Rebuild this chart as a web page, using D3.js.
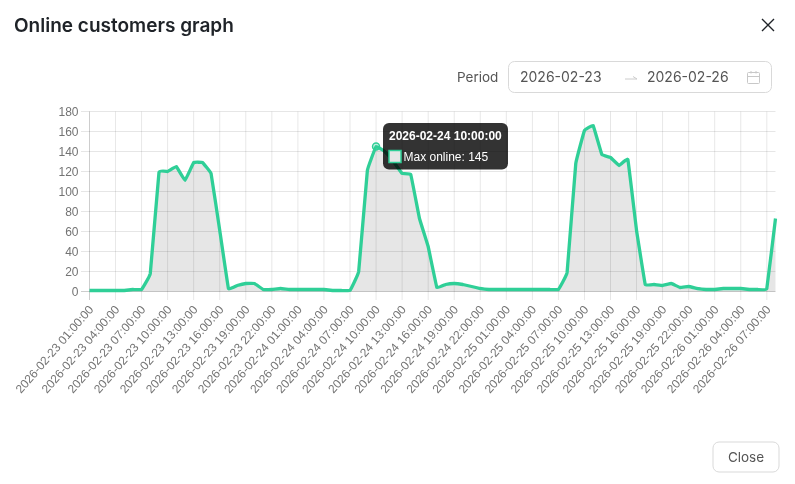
<!DOCTYPE html>
<html><head><meta charset="utf-8">
<script src="https://cdn.jsdelivr.net/npm/d3@7"></script>
<style>html,body{margin:0;padding:0;background:#fff}svg{display:block}text{font-family:Inter,sans-serif}</style>
</head><body><div id="c"></div>
<script>
const days = ["2026-02-23","2026-02-24","2026-02-25","2026-02-26"];
const firstHour = 1;
const maxOnline = [1,1,1,1,1,2,2,18,119,120,125,111,129,129,118,61,3,6,8,8,2,2,3,2,
  2,2,2,2,1,1,1,20,121,145,140,130,118,117,73,45,4,7,8,7,5,3,2,2,
  2,2,2,2,2,2,2,19,128,161,166,137,134,126,132,61,7,7,6,8,4,5,3,2,
  2,3,3,3,2,2,3,73];
const yTicks = [0,20,40,60,80,100,120,140,160,180];
const seriesName = "Max online";
const activeIndex = 33;
const title = "Online customers graph";
const periodLabel = "Period";
const closeLabel = "Close";

function label(i){
  const h = i + firstHour;
  const d = Math.floor(h/24), hh = h%24;
  return days[d]+" "+String(hh).padStart(2,"0")+":00:00";
}
const W=795,H=484;
const svg=d3.select("#c").append("svg").attr("width",W).attr("height",H);
const x=d3.scaleLinear().domain([0,maxOnline.length-1]).range([89.5,775.5]);
const y=d3.scaleLinear().domain([0,180]).range([291.5,111.5]);
const grid="rgba(0,0,0,0.1)";
const sans="'Liberation Sans',Arial,sans-serif";
const g=svg.append("g").style("opacity",0.999);
yTicks.forEach(t=>{
  g.append("line").attr("x1",81).attr("x2",775.5).attr("y1",y(t)).attr("y2",y(t))
   .attr("stroke",t===0?"rgba(0,0,0,0.2)":grid);
  g.append("text").attr("x",78.5).attr("y",y(t)+4.3).attr("text-anchor","end")
   .style("font-family",sans).style("font-size","12px").attr("fill","#737373").text(t);
});
const tickIdx=d3.range(0,maxOnline.length,3);
tickIdx.forEach(i=>{
  g.append("line").attr("x1",x(i)).attr("x2",x(i)).attr("y1",111.5).attr("y2",300)
   .attr("stroke",i===0?"rgba(0,0,0,0.2)":grid);
  g.append("text").attr("transform",`translate(${x(i)-1},${305}) rotate(-49)`)
   .attr("text-anchor","end").attr("dy","0.62em")
   .style("font-family",sans).style("font-size","12px").attr("fill","#737373").text(label(i));
});
const curve=d3.curveCardinal.tension(0.85);
g.append("path").datum(maxOnline)
 .attr("d",d3.area().x((d,i)=>x(i)).y0(y(0)).y1(d=>y(d)).curve(curve))
 .attr("fill","rgba(0,0,0,0.1)");
g.append("path").datum(maxOnline)
 .attr("d",d3.line().x((d,i)=>x(i)).y(d=>y(d)).curve(curve))
 .attr("fill","none").attr("stroke","#2fcf97").attr("stroke-width",3.3);
g.append("circle").attr("cx",x(activeIndex)).attr("cy",y(maxOnline[activeIndex])).attr("r",3.5)
 .attr("fill","rgba(47,207,151,0.25)").attr("stroke","#2fcf97").attr("stroke-width",1.5);
const tt=svg.append("g").style("opacity",0.999);
tt.append("rect").attr("x",383).attr("y",123).attr("width",125).attr("height",46.5).attr("rx",6).attr("fill","rgba(0,0,0,0.8)");
tt.append("text").attr("x",389).attr("y",140).attr("fill","#fff")
 .style("font-family",sans).style("font-size","12px").style("font-weight","700").text(label(activeIndex));
tt.append("rect").attr("x",389).attr("y",150.5).attr("width",12).attr("height",12).attr("fill","#e6e6e6").attr("stroke","#2fcf97").attr("stroke-width",1.5);
tt.append("text").attr("x",403.5).attr("y",160.5).attr("fill","#fff")
 .style("font-family",sans).style("font-size","12px").text(seriesName+": "+maxOnline[activeIndex]);
svg.append("text").attr("x",14).attr("y",32).attr("fill","#1f2328").style("font-size","19px").style("font-weight","600").text(title);
svg.append("path").attr("d","M762 19 L774 31 M774 19 L762 31").attr("stroke","#1f2328").attr("stroke-width",1.4).attr("fill","none");
svg.append("text").attr("x",457).attr("y",82).attr("fill","#555").style("font-size","13.5px").text(periodLabel);
svg.append("rect").attr("x",508.5).attr("y",61.5).attr("width",263).attr("height",31).attr("rx",6).attr("fill","#fff").attr("stroke","#d9d9d9");
svg.append("text").attr("x",520).attr("y",82).attr("fill","#555").style("font-size","14px").text(days[0]);
svg.append("text").attr("x",647).attr("y",82).attr("fill","#555").style("font-size","14px").text(days[3]);
svg.append("path").attr("d","M625 79 H637 L633 76.5").attr("stroke","#ccc").attr("fill","none");
const cal=svg.append("g").attr("stroke","#c8c8c8").attr("fill","none");
cal.append("rect").attr("x",747.5).attr("y",72.5).attr("width",12).attr("height",11).attr("rx",1);
cal.append("path").attr("d","M747.5 76.5 H759.5 M751 71 V73.5 M756 71 V73.5");
svg.append("rect").attr("x",713).attr("y",442).attr("width",66).attr("height",30).attr("rx",6).attr("fill","#fff").attr("stroke","#d9d9d9");
svg.append("text").attr("x",746).attr("y",462).attr("text-anchor","middle").attr("fill","#555").style("font-size","13.5px").text(closeLabel);
</script></body></html>
